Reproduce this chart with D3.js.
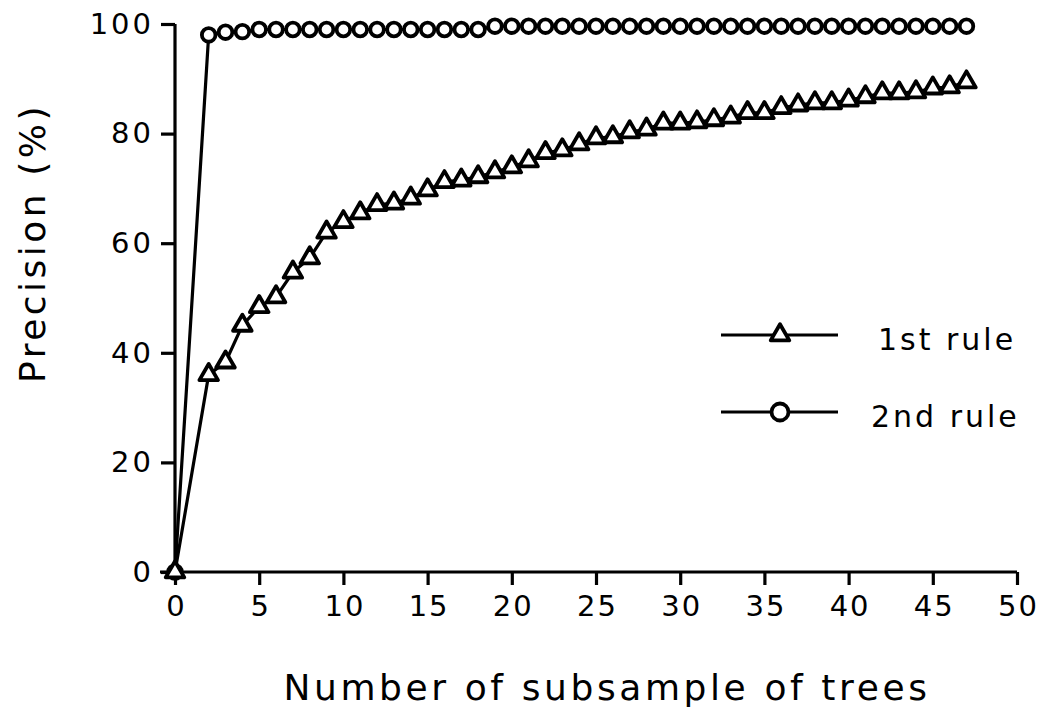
<!DOCTYPE html>
<html>
<head>
<meta charset="utf-8">
<script src="https://cdn.jsdelivr.net/npm/d3@7"></script>
<style>
  html, body { margin: 0; padding: 0; background: #fff; }
  svg { display: block; }
  text { font-family: "DejaVu Sans", sans-serif; fill: #000; }
</style>
</head>
<body>
<svg id="chart" width="1039" height="715"></svg>
<script>
// ---- data ----
const xTicks = [0, 5, 10, 15, 20, 25, 30, 35, 40, 45, 50];
const yTicks = [0, 20, 40, 60, 80, 100];
const rule1X = [0, 2, 3, 4, 5, 6, 7, 8, 9, 10, 11, 12, 13, 14, 15, 16, 17, 18, 19, 20, 21, 22, 23, 24, 25, 26, 27, 28, 29, 30, 31, 32, 33, 34, 35, 36, 37, 38, 39, 40, 41, 42, 43, 44, 45, 46, 47];
const rule1Y = [0, 36, 38.3, 45, 48.4, 50.2, 54.7, 57.3, 62, 63.9, 65.5, 67, 67.3, 68.2, 69.7, 71.2, 71.5, 72.1, 73, 73.9, 75, 76.5, 77, 78.1, 79.2, 79.4, 80.3, 80.8, 81.9, 81.9, 82.1, 82.5, 83, 83.8, 83.8, 84.7, 85.2, 85.6, 85.6, 86.1, 86.7, 87.4, 87.4, 87.6, 88.3, 88.5, 89.4];
const rule2X = rule1X;
const rule2Y = [0, 98, 98.5, 98.6, 99, 99, 99, 99, 99, 99, 99, 99, 99, 99, 99, 99, 99, 99, 99.6, 99.6, 99.6, 99.6, 99.6, 99.6, 99.6, 99.6, 99.6, 99.6, 99.6, 99.6, 99.6, 99.6, 99.6, 99.6, 99.6, 99.6, 99.6, 99.6, 99.6, 99.6, 99.6, 99.6, 99.6, 99.6, 99.6, 99.6, 99.6];
const seriesNames = ["1st rule", "2nd rule"];
const xTitle = "Number of subsample of trees";
const yTitle = "Precision (%)";

// ---- layout ----
const svg = d3.select("#chart");
const x = d3.scaleLinear().domain([0, 50]).range([175, 1017]);
const y = d3.scaleLinear().domain([0, 100]).range([572, 24]);
const SW = 3.2;
const MW = 3.8;

// axes
const xAxis = svg.append("g").attr("transform", `translate(0,${y(0)})`)
  .call(d3.axisBottom(x).tickValues(xTicks).tickSize(13).tickPadding(10).tickFormat(d3.format("d")));
xAxis.select(".domain").attr("d", `M160,0H${x(50)}`).attr("stroke-width", SW);
xAxis.selectAll(".tick line").attr("stroke-width", SW);
xAxis.selectAll(".tick text").attr("font-size", 29).attr("letter-spacing", 2).attr("dx", 1);

const yAxis = svg.append("g").attr("transform", `translate(${x(0)},0)`)
  .call(d3.axisLeft(y).tickValues(yTicks).tickSize(14).tickPadding(10).tickFormat(d3.format("d")));
yAxis.select(".domain").attr("d", `M0,${y(100)}V${y(0)}`).attr("stroke-width", SW);
yAxis.selectAll(".tick line").attr("stroke-width", SW);
yAxis.selectAll(".tick text").attr("font-size", 29).attr("letter-spacing", 3).attr("dx", 3);
svg.selectAll(".domain, .tick line").attr("stroke", "#000");

// lines
const line = d3.line().x(d => x(d[0])).y(d => y(d[1]));
const d1 = rule1X.map((v, i) => [v, rule1Y[i]]);
const d2 = rule2X.map((v, i) => [v, rule2Y[i]]);
svg.append("path").datum(d2).attr("d", line).attr("fill", "none").attr("stroke", "#000").attr("stroke-width", SW);
svg.append("path").datum(d1).attr("d", line).attr("fill", "none").attr("stroke", "#000").attr("stroke-width", SW);

const tri = d3.symbol().type(d3.symbolTriangle).size(150);
svg.append("g").selectAll("circle").data(d2).join("circle")
  .attr("cx", d => x(d[0])).attr("cy", d => y(d[1])).attr("r", 6.8)
  .attr("fill", "#fff").attr("stroke", "#000").attr("stroke-width", MW);
svg.append("g").selectAll("path").data(d1).join("path")
  .attr("d", tri).attr("transform", d => `translate(${x(d[0])},${y(d[1])})`)
  .attr("fill", "#fff").attr("stroke", "#000").attr("stroke-width", MW).attr("stroke-linejoin", "round");

// legend
const leg = svg.append("g");
const legY = [335, 412];
leg.selectAll("line").data(legY).join("line")
  .attr("x1", 721).attr("x2", 838).attr("y1", d => d).attr("y2", d => d)
  .attr("stroke", "#000").attr("stroke-width", SW);
leg.append("path").attr("d", tri).attr("transform", `translate(780,${legY[0]})`)
  .attr("fill", "#fff").attr("stroke", "#000").attr("stroke-width", MW).attr("stroke-linejoin", "round");
leg.append("circle").attr("cx", 780).attr("cy", legY[1]).attr("r", 8.5)
  .attr("fill", "#fff").attr("stroke", "#000").attr("stroke-width", MW);
leg.selectAll("text").data(seriesNames).join("text")
  .attr("x", (d, i) => i === 0 ? 878 : 871).attr("y", (d, i) => legY[i] + 15)
  .attr("font-size", 30).attr("letter-spacing", 3).text(d => d);

// titles
svg.append("text").attr("x", 607).attr("y", 700).attr("text-anchor", "middle")
  .attr("font-size", 36).attr("letter-spacing", 3.6).text(xTitle);
svg.append("text").attr("transform", "translate(45,243) rotate(-90)").attr("text-anchor", "middle")
  .attr("font-size", 36).attr("letter-spacing", 3.5).text(yTitle);
</script>
</body>
</html>
